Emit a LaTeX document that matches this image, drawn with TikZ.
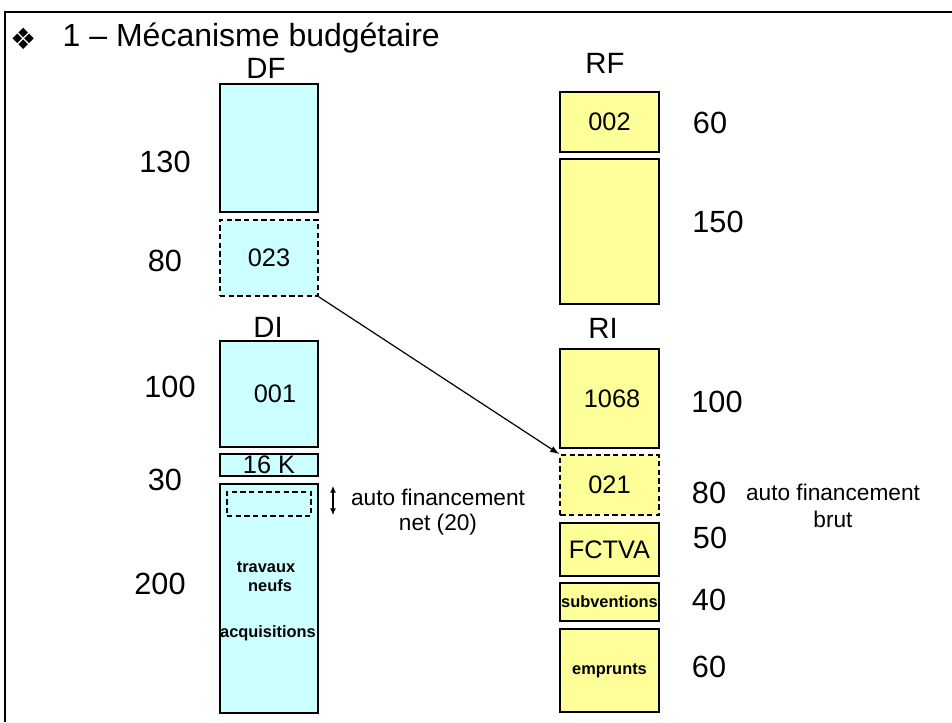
\documentclass[tikz,border=0pt]{standalone}
\usepackage{fontspec}
\setmainfont{Liberation Sans}
\newfontfamily\dingfont{DejaVu Sans}
\usetikzlibrary{arrows.meta}

\definecolor{depcyan}{HTML}{CCFFFF}
\definecolor{recyellow}{HTML}{FFFF99}

\tikzset{
  dbox/.style={draw, fill=depcyan, line width=1.2pt, minimum width=73.5pt, inner sep=0pt},
  rbox/.style={draw, fill=recyellow, line width=1.2pt, minimum width=74pt, inner sep=0pt},
  dashbox/.style={dash pattern=on 4pt off 2.5pt},
  bignum/.style={font=\fontsize{23}{26}\selectfont},
  colhead/.style={font=\fontsize{22}{24}\selectfont},
  boxtxt/.style={font=\fontsize{19}{22}\selectfont},
  smalltxt/.style={font=\fontsize{12.3}{14}\selectfont\bfseries},
  remark/.style={font=\fontsize{17}{19}\selectfont}
}

\begin{document}
\begin{tikzpicture}[x=0.75pt, y=-0.75pt] % one unit = one pixel of the slide

    % Frame of the page
    \useasboundingbox (0,0) rectangle (952,722);
    \draw[line width=1.6pt] (5,722) -- (5,12) -- (952,12);

    % Title
    \node[font=\dingfont\fontsize{22}{24}\selectfont] (bullet) at (24,39) {❖};
    \node[anchor=west, font=\fontsize{24}{26}\selectfont] (title) at (58,38) {1 – Mécanisme budgétaire};

    % Section de fonctionnement: depenses
    \node[colhead] (DF) at (266,68) {DF};
    \node[dbox, minimum height=96pt] (df) at (269,148) {};
    \node[dbox, dashbox, minimum height=57pt, boxtxt] (v023) at (269,258) {023};

    % Section d'investissement: depenses
    \node[colhead] (DI) at (268,327) {DI};
    \node[dbox, minimum height=79.5pt] (v001) at (269,394) {};
    \node[boxtxt] (t001) at (275,394) {001};
    \node[dbox, minimum height=16.5pt] (k16) at (269,465) {};
    \node[boxtxt] (t16) at (269,465) {16 K};
    \node[dbox, minimum height=171.75pt] (trav) at (269,598.5) {};
    \node[draw, dashbox, line width=1pt, minimum width=63pt, minimum height=18pt] (afnet) at (269,504) {};
    \node[smalltxt, align=center] (ttrav) at (266,577) {travaux\\\hspace*{6pt}neufs};
    \node[smalltxt] (tacq) at (268,633) {acquisitions};

    % Montants des depenses
    \node[bignum] (n130) at (165,162) {130};
    \node[bignum] (n80) at (165,261) {80};
    \node[bignum] (n100) at (170,387) {100};
    \node[bignum] (n30) at (165,480) {30};
    \node[bignum] (n200) at (160,584) {200};

    % Autofinancement net
    \coordinate (netTop) at (333,486);
    \coordinate (netBot) at (333,515);
    \draw[{Latex[length=5pt, width=4.5pt]}-{Latex[length=5pt, width=4.5pt]}, line width=0.8pt] (netTop) -- (netBot);
    \node[remark] (anet) at (438,497) {auto financement};
    \node[remark] (bnet) at (438,525) {net (20)};

    % Section de fonctionnement: recettes
    \node[colhead] (RF) at (605,63) {RF};
    \node[rbox, minimum height=45pt, boxtxt] (v002) at (609.5,122) {002};
    \node[rbox, minimum height=108.75pt] (rf) at (609.5,231.5) {};

    % Section d'investissement: recettes
    \node[colhead] (RI) at (603,328) {RI};
    \node[rbox, minimum height=74.25pt] (v1068) at (609.5,398.5) {};
    \node[boxtxt] (t1068) at (612,399) {1068};
    \node[rbox, dashbox, minimum height=45pt, boxtxt] (v021) at (609.5,485) {021};
    \node[rbox, minimum height=39.75pt, boxtxt] (fctva) at (609.5,549.5) {FCTVA};
    \node[rbox, minimum height=28.5pt, smalltxt] (subv) at (609.5,602) {subventions};
    \node[rbox, minimum height=62.25pt, smalltxt] (empr) at (609.5,670.5) {emprunts};

    % Montants des recettes
    \node[bignum] (m60) at (710,123) {60};
    \node[bignum] (m150) at (718,222) {150};
    \node[bignum] (m100) at (717,402) {100};
    \node[bignum] (m80) at (709,493) {80};
    \node[bignum] (m50) at (710,538) {50};
    \node[bignum] (m40) at (709,600) {40};
    \node[bignum] (m60b) at (709,667) {60};

    % Autofinancement brut
    \node[remark] (abrut) at (833,492) {auto financement};
    \node[remark] (bbrut) at (833,519) {brut};

    % Virement 023 -> 021
    \draw[-{Latex[length=7pt, width=5pt]}, line width=0.9pt] (v023.south east) -- (v021.north west);

\end{tikzpicture}
\end{document}
